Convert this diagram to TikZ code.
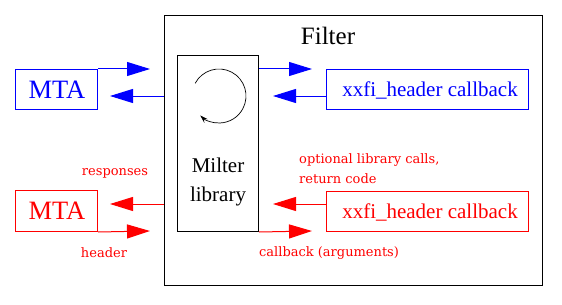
\documentclass[tikz,border=0pt]{standalone}
\usepackage{fontspec}
\setmainfont{DejaVu Serif}
\newfontfamily\timesf{Liberation Serif}
\usetikzlibrary{arrows.meta}
\definecolor{fblue}{RGB}{0,0,255}
\definecolor{fred}{RGB}{255,0,0}
\tikzset{
  box/.style={draw, line width=1pt, inner sep=0pt, anchor=north west},
  big/.style={font=\timesf\fontsize{25}{28}\selectfont},
  huge/.style={font=\timesf\fontsize{26.5}{28}\selectfont},
  mid/.style={font=\timesf\fontsize{21}{29}\selectfont},
  small/.style={font=\fontsize{13}{20}\selectfont, inner sep=0pt},
  flow/.style={line width=1pt, -{Triangle[length=23pt,width=14pt]}},
}
\begin{document}
\begin{tikzpicture}[x=1pt,y=-1pt]
\useasboundingbox (0,0) rectangle (562,305);
% Filter
\node[box, minimum width=378pt, minimum height=270pt] (filter) at (164,15) {};
\node[big] (ftitle) at (328,36) {Filter};
% Milter library
\node[box, minimum width=81pt, minimum height=176pt] (milter) at (177,55) {};
\node[mid, align=center] (mtext) at (218,182) {Milter\\library};
\coordinate (cc) at (219,96);
\draw[line width=0.7pt, -{Stealth[length=8pt,width=5pt]}] (cc) ++(208:27) arc[start angle=208, end angle=494, radius=27];
% Blue row
\node[box, fblue, minimum width=82pt, minimum height=40pt] (mta1) at (15,69) {};
\node[huge, fblue] (mta1t) at (57,90) {MTA};
\node[box, fblue, minimum width=202pt, minimum height=40pt] (xx1) at (326,69) {};
\node[mid, fblue] (xx1t) at (430,90) {xxfi\_header callback};
\coordinate (b1) at (150,69);
\coordinate (b2) at (110,96);
\coordinate (b3) at (312,69);
\coordinate (b4) at (273,96);
\draw[flow, fblue] (mta1.north east) -- (b1);
\draw[flow, fblue] (filter.west |- b2) -- (b2);
\draw[flow, fblue] (milter.east |- b3) -- (b3);
\draw[flow, fblue] (xx1.west |- b4) -- (b4);
% Red row
\node[box, fred, minimum width=82pt, minimum height=41pt] (mta2) at (15,190) {};
\node[huge, fred] (mta2t) at (57,211) {MTA};
\node[box, fred, minimum width=202pt, minimum height=40pt] (xx2) at (326,191) {};
\node[mid, fred] (xx2t) at (430,212) {xxfi\_header callback};
\coordinate (r1) at (150,231);
\coordinate (r2) at (110,204);
\coordinate (r3) at (312,231);
\coordinate (r4) at (273,204);
\draw[flow, fred] (mta2.south east) -- (r1);
\draw[flow, fred] (filter.west |- r2) -- (r2);
\draw[flow, fred] (milter.south east) -- (r3);
\draw[flow, fred] (xx2.west |- r4) -- (r4);
% Labels
\node[small, fred] (lresp) at (115,173) {responses};
\node[small, fred] (lhead) at (104,253) {header};
\node[small, fred, anchor=west] (lcb) at (259,253) {callback (arguments)};
\node[small, fred, anchor=west, align=left] (lopt) at (299,169) {optional library calls,\\return code};
\end{tikzpicture}
\end{document}
